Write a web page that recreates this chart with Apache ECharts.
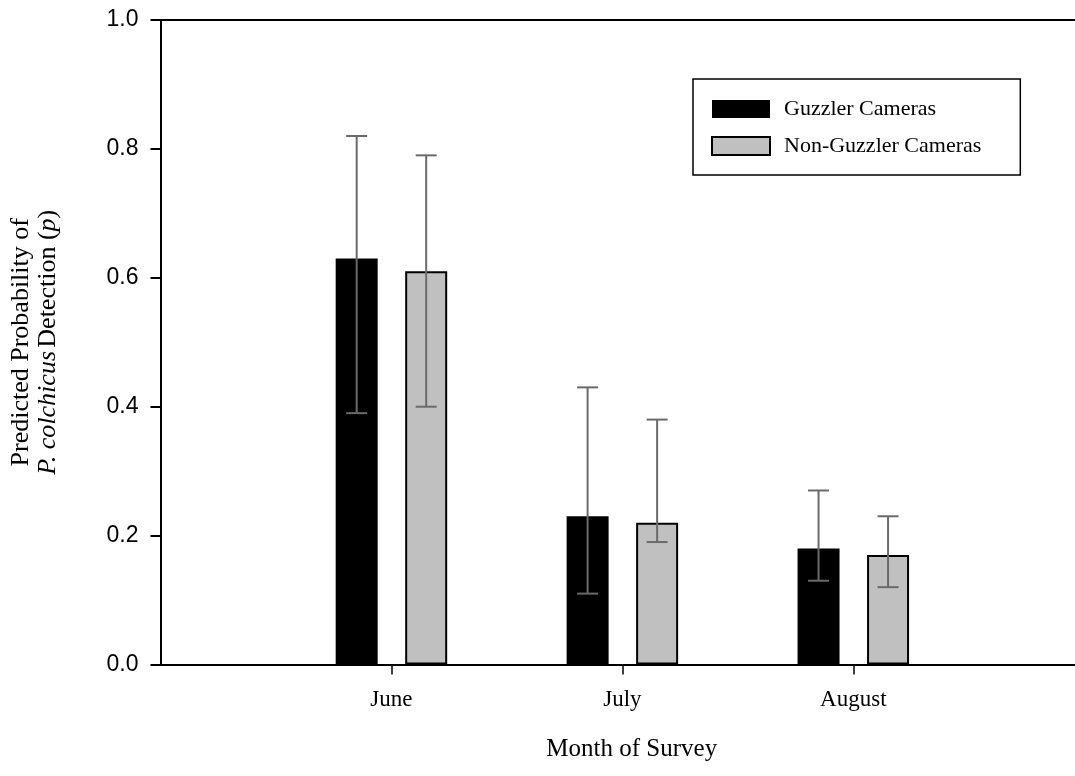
<!DOCTYPE html>
<html>
<head>
<meta charset="utf-8">
<script src="https://cdn.jsdelivr.net/npm/echarts@6/dist/echarts.min.js"></script>
<style>html,body{margin:0;padding:0;background:#fff;}#c{width:1075px;height:776px;}</style>
</head>
<body>
<div id="c"></div>
<script>
var months = ['June', 'July', 'August'];
var monthPos = [1, 2, 3];
var guzzler = [0.63, 0.23, 0.18];
var guzzlerLow = [0.39, 0.11, 0.13];
var guzzlerHigh = [0.82, 0.43, 0.27];
var nonGuzzler = [0.61, 0.22, 0.17];
var nonGuzzlerLow = [0.40, 0.19, 0.12];
var nonGuzzlerHigh = [0.79, 0.38, 0.23];
var yTicks = [0, 0.2, 0.4, 0.6, 0.8, 1.0];

var BAR_W = 42, BAR_GAP = 0.655;
var OFF = BAR_W * (1 + BAR_GAP) / 2;
var serif = '"Liberation Serif","Times New Roman",serif';
var sans = '"Liberation Sans",Arial,sans-serif';

function pairs(vals) { return monthPos.map(function (p, i) { return [p, vals[i]]; }); }
function errs(lo, hi) { return monthPos.map(function (p, i) { return [p, lo[i], hi[i]]; }); }
function errRender(sign) {
  return function (params, api) {
    var lo = api.coord([api.value(0), api.value(1)]);
    var hi = api.coord([api.value(0), api.value(2)]);
    var x = lo[0] + sign * OFF;
    var cap = 10.5;
    var st = { stroke: '#6a6a6a', lineWidth: 2 };
    return {
      type: 'group',
      children: [
        { type: 'line', shape: { x1: x, y1: lo[1], x2: x, y2: hi[1] }, style: st },
        { type: 'line', shape: { x1: x - cap, y1: hi[1], x2: x + cap, y2: hi[1] }, style: st },
        { type: 'line', shape: { x1: x - cap, y1: lo[1], x2: x + cap, y2: lo[1] }, style: st }
      ]
    };
  };
}

var chart = echarts.init(document.getElementById('c'));
chart.setOption({
  animation: false,
  backgroundColor: '#fff',
  grid: { left: 160, right: 0, top: 20, bottom: 111.5, containLabel: false },
  legend: {
    orient: 'vertical',
    left: 693, top: 79,
    padding: [19, 39, 18, 18],
    itemWidth: 58, itemHeight: 18, itemGap: 15,
    borderColor: '#000', borderWidth: 1.5,
    icon: 'rect',
    textStyle: { fontFamily: serif, fontSize: 22, color: '#000', padding: [0, 0, 0, 9] },
    data: ['Guzzler Cameras', 'Non-Guzzler Cameras']
  },
  xAxis: [{
    type: 'value', min: 0, max: 3.96,
    name: 'Month of Survey', nameLocation: 'middle', nameGap: 72,
    nameTextStyle: { fontFamily: serif, fontSize: 25, color: '#000', padding: [0, 0, 0, 28] },
    axisLine: { show: true, lineStyle: { color: '#000', width: 2 } },
    axisTick: { show: true, length: 10, inside: false, customValues: monthPos, lineStyle: { color: '#000', width: 1.5 } },
    axisLabel: {
      customValues: monthPos, margin: 24,
      fontFamily: serif, fontSize: 23, color: '#000',
      formatter: function (v) { var i = monthPos.indexOf(Math.round(v)); return i >= 0 ? months[i] : ''; }
    },
    splitLine: { show: false }
  }, {
    type: 'value', min: 0, max: 3.96, position: 'top',
    axisLine: { show: true, lineStyle: { color: '#000', width: 2 } },
    axisTick: { show: false }, axisLabel: { show: false }, splitLine: { show: false }
  }],
  yAxis: {
    type: 'value', min: 0, max: 1, interval: 0.2,
    name: '{a|Predicted Probability of}\n{b|P. colchicus} {a|Detection (}{b|p}{a|)}',
    nameLocation: 'middle', nameGap: 99,
    nameTextStyle: {
      rich: {
        a: { fontFamily: serif, fontSize: 26, color: '#000', lineHeight: 27 },
        b: { fontFamily: serif, fontSize: 26, color: '#000', fontStyle: 'italic', lineHeight: 27 }
      }
    },
    axisLine: { show: true, lineStyle: { color: '#000', width: 2 } },
    axisTick: { show: true, length: 10, inside: false, customValues: yTicks, lineStyle: { color: '#000', width: 2 } },
    axisLabel: {
      customValues: yTicks, margin: 22,
      fontFamily: sans, fontSize: 23, color: '#000',
      formatter: function (v) { return v.toFixed(1); }
    },
    splitLine: { show: false }
  },
  series: [{
    name: 'Guzzler Cameras', type: 'bar', data: pairs(guzzler),
    barWidth: BAR_W, barGap: (BAR_GAP * 100) + '%',
    itemStyle: { color: '#000', borderColor: '#000', borderWidth: 0 }
  }, {
    name: 'Non-Guzzler Cameras', type: 'bar', data: pairs(nonGuzzler),
    barWidth: BAR_W, barGap: (BAR_GAP * 100) + '%',
    itemStyle: { color: '#c0c0c0', borderColor: '#000', borderWidth: 2 }
  }, {
    type: 'custom', renderItem: errRender(-1), data: errs(guzzlerLow, guzzlerHigh), z: 5,
    encode: { x: 0, y: [1, 2] }
  }, {
    type: 'custom', renderItem: errRender(1), data: errs(nonGuzzlerLow, nonGuzzlerHigh), z: 5,
    encode: { x: 0, y: [1, 2] }
  }]
});
</script>
</body>
</html>
